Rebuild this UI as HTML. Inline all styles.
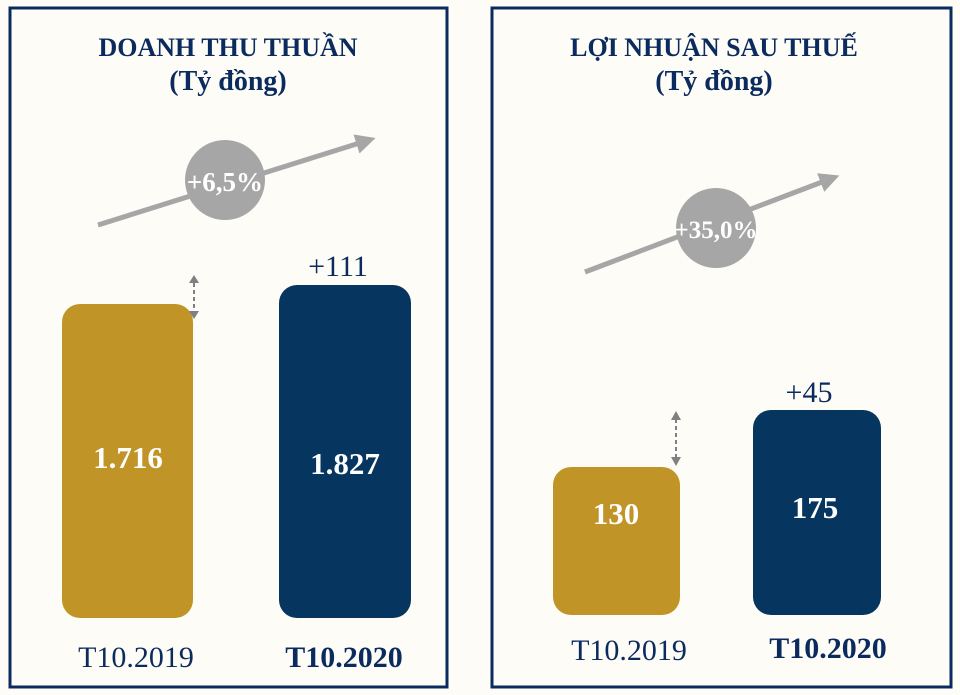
<!DOCTYPE html>
<html><head><meta charset="utf-8"><style>
body{margin:0;background:#fdfcf6;}
svg{display:block}
text{font-family:"Liberation Serif",serif;}
</style></head><body>
<svg width="960" height="695" viewBox="0 0 960 695">
<rect width="960" height="695" fill="#fdfcf6"/>
<rect x="10" y="8" width="437" height="679" fill="#fdfcf6" stroke="#0b2b5f" stroke-width="3"/>
<rect x="492" y="8" width="459" height="679" fill="#fdfcf6" stroke="#0b2b5f" stroke-width="3"/>
<defs><marker id="ah" markerWidth="4" markerHeight="4" refX="2" refY="2" orient="auto"><path d="M0,0L4,2L0,4z" fill="#a6a6a6"/></marker></defs>
<g font-weight="bold" fill="#0b2b5f" font-size="26" text-anchor="middle">
<text x="228" y="56">DOANH THU THUẦN</text>
<text x="228" y="90" font-size="28">(Tỷ đồng)</text>
<text x="714" y="56">LỢI NHUẬN SAU THUẾ</text>
<text x="714" y="90" font-size="28">(Tỷ đồng)</text>
</g>
<line x1="98" y1="225" x2="366" y2="141" stroke="#a6a6a6" stroke-width="5" marker-end="url(#ah)"/>
<circle cx="225" cy="180" r="40" fill="#a6a6a6"/>
<text x="225" y="191" font-size="27" font-weight="bold" fill="#fff" text-anchor="middle">+6,5%</text>
<line x1="585" y1="272" x2="830" y2="179" stroke="#a6a6a6" stroke-width="5" marker-end="url(#ah)"/>
<circle cx="716" cy="228" r="40" fill="#a6a6a6"/>
<text x="716" y="238" font-size="25" font-weight="bold" fill="#fff" text-anchor="middle">+35,0%</text>
<rect x="62" y="304" width="131" height="314" rx="18" fill="#c19427"/>
<rect x="279" y="285" width="132" height="333" rx="18" fill="#06355f"/>
<rect x="553" y="467" width="127" height="148" rx="18" fill="#c19427"/>
<rect x="753" y="410" width="128" height="205" rx="18" fill="#06355f"/>
<g font-weight="bold" fill="#fff" font-size="31" text-anchor="middle">
<text x="128" y="468">1.716</text>
<text x="345" y="474">1.827</text>
<text x="616" y="524">130</text>
<text x="815" y="518">175</text>
</g>
<g fill="#0b2b5f" font-size="30" text-anchor="middle">
<text x="338" y="276">+111</text>
<text x="809" y="402">+45</text>
<text x="136" y="667">T10.2019</text>
<text x="629" y="660">T10.2019</text>
<text x="344" y="667" font-weight="bold">T10.2020</text>
<text x="828" y="658" font-weight="bold">T10.2020</text>
</g>
<g fill="#808080">
<line x1="194" y1="283" x2="194" y2="311" stroke="#808080" stroke-width="2" stroke-dasharray="4 3"/>
<path d="M189,283L199,283L194,275z M189,311L199,311L194,319z"/>
<line x1="676" y1="419" x2="676" y2="458" stroke="#808080" stroke-width="2" stroke-dasharray="4 3"/>
<path d="M671,420L681,420L676,411z M671,457L681,457L676,466z"/>
</g>
</svg>
</body></html>
